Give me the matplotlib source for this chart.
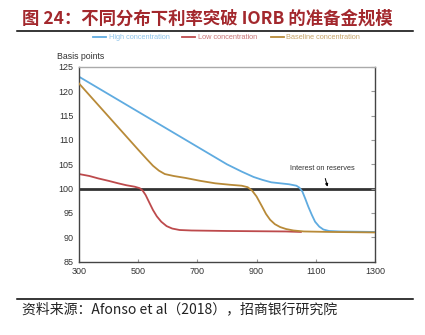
import matplotlib.pyplot as plt
from matplotlib.lines import Line2D

plt.rcParams['font.family'] = ['Liberation Sans', 'Noto Sans CJK SC', 'DejaVu Sans']

# data (reserves vs. rate, basis points)
high_x = [300, 400, 500, 600, 700, 800, 850, 890, 920, 950, 980, 1010, 1035,
          1045, 1055, 1065, 1075, 1087, 1098, 1112, 1126, 1145, 1180, 1300]
high_y = [123.0, 119.4, 115.8, 112.2, 108.6, 105.0, 103.5, 102.4, 101.8, 101.3,
          101.1, 100.9, 100.6, 100.2, 99.4, 97.9, 96.3, 94.6, 93.2, 92.2, 91.6,
          91.3, 91.2, 91.1]

low_x = [300, 335, 365, 400, 432, 460, 488, 505, 515, 525, 537, 550, 563, 578,
         596, 615, 640, 680, 800, 1000, 1050]
low_y = [103.0, 102.6, 102.1, 101.6, 101.1, 100.7, 100.4, 100.1, 99.6, 98.7,
         97.2, 95.6, 94.3, 93.2, 92.3, 91.8, 91.5, 91.4, 91.3, 91.2, 91.1]

base_x = [300, 400, 500, 530, 550, 570, 590, 620, 660, 710, 760, 810, 850, 870,
          885, 900, 918, 932, 946, 962, 980, 1000, 1025, 1060, 1150, 1300]
base_y = [121.6, 114.8, 108.0, 106.0, 104.7, 103.7, 103.0, 102.6, 102.2, 101.6,
          101.1, 100.8, 100.6, 100.3, 99.6, 98.4, 96.4, 94.8, 93.6, 92.7, 92.1,
          91.7, 91.4, 91.2, 91.1, 91.0]

iorb = 100
xticks = [300, 500, 700, 900, 1100, 1300]
yticks = [85, 90, 95, 100, 105, 110, 115, 120, 125]

blue = '#5fabe0'
red = '#bd4a4c'
gold = '#b88a38'

fig = plt.figure(figsize=(4.25, 3.35), dpi=100)

# title + rules
fig.text(0.052, 0.945, '图 24：不同分布下利率突破 IORB 的准备金规模',
         fontsize=12.5, fontweight='bold', color='#a3282d',
         family=['Noto Sans CJK SC', 'DejaVu Sans'], va='center')
fig.add_artist(Line2D([0.04, 0.972], [0.908, 0.908], color='black', lw=1.1))
fig.add_artist(Line2D([0.04, 0.972], [0.107, 0.107], color='black', lw=1.1))
fig.text(0.052, 0.077, '资料来源：Afonso et al（2018），招商银行研究院',
         fontsize=10, color='#222222',
         family=['Noto Sans CJK SC', 'DejaVu Sans'], va='center')

# legend drawn by hand across the top
leg = [(0.219, 'High concentration', blue, '#8cc3ea'),
       (0.428, 'Low concentration', red, '#c97577'),
       (0.637, 'Baseline concentration', gold, '#c7a468')]
for x0, lab, c, tc in leg:
    fig.add_artist(Line2D([x0, x0 + 0.031], [0.889, 0.889], color=c, lw=1.3))
    fig.text(x0 + 0.037, 0.889, lab, fontsize=5.3, color=tc, va='center')

fig.text(0.134, 0.830, 'Basis points', fontsize=6.3, color='#333333', va='center')

ax = fig.add_axes([0.186, 0.219, 0.696, 0.581])
ax.axhline(iorb, color='#333333', lw=2.0, zorder=1)
ax.plot(high_x, high_y, color=blue, lw=1.3, zorder=2)
ax.plot(low_x, low_y, color=red, lw=1.3, zorder=2)
ax.plot(base_x, base_y, color=gold, lw=1.3, zorder=3)

ax.annotate('Interest on reserves', xy=(1140, 100.4), xytext=(1123, 104.2),
            fontsize=5.3, color='#333333', ha='center', va='center',
            arrowprops=dict(arrowstyle='-|>', color='black', lw=0.7,
                            mutation_scale=4, shrinkA=3, shrinkB=0))

ax.set_xlim(300, 1300)
ax.set_ylim(85, 125)
ax.set_xticks(xticks)
ax.set_yticks(yticks)
ax.tick_params(axis='x', direction='in', length=2.5, labelsize=6.5,
               colors='#999999', labelcolor='#333333', pad=4)
ax.tick_params(axis='y', direction='in', length=3, left=False, right=True,
               labelleft=True, labelsize=6.5, colors='#999999',
               labelcolor='#333333', pad=4)
for s in ['left', 'bottom', 'right']:
    ax.spines[s].set_color('#444444')
    ax.spines[s].set_linewidth(1.0)
ax.spines['top'].set_color('#aaaaaa')
ax.spines['top'].set_linewidth(1.0)

fig.savefig('out.png', dpi=100)
